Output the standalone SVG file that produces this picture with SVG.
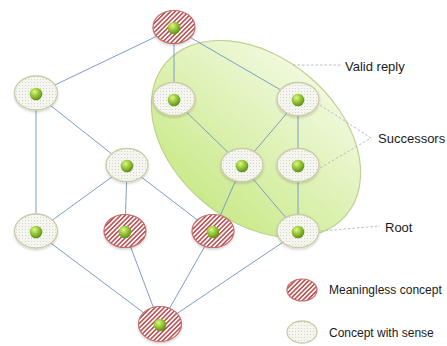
<svg xmlns="http://www.w3.org/2000/svg" width="447" height="346" viewBox="0 0 447 346">
<defs>
  <style>
    .edge{stroke:#7f9cc6;stroke-width:1;fill:none}
    .lead{stroke:#b4b4b4;stroke-width:0.9;stroke-dasharray:2.5,2;fill:none}
    .sense{fill:url(#dots);stroke:#cbcba6;stroke-width:1.3}
    .bad{fill:url(#hatch);stroke:#c86a6a;stroke-width:1.2}
    .dot{fill:url(#ball)}
    .lbl{font-family:"Liberation Sans",Arial,sans-serif;font-size:13px;fill:#1a1a1a}
    .leg{font-family:"Liberation Sans",Arial,sans-serif;font-size:12px;fill:#1a1a1a}
  </style>
  <pattern id="dots" width="3" height="3" patternUnits="userSpaceOnUse">
    <rect width="3" height="3" fill="#f6f6f0"/>
    <circle cx="1.5" cy="1.5" r="0.55" fill="#cfcfc8"/>
  </pattern>
  <pattern id="hatch" width="3.2" height="3.2" patternUnits="userSpaceOnUse" patternTransform="rotate(45)">
    <rect width="3.2" height="3.2" fill="#ffffff"/>
    <rect width="1.5" height="3.2" fill="#b9484a"/>
  </pattern>
  <radialGradient id="ball" cx="0.38" cy="0.32" r="0.7">
    <stop offset="0" stop-color="#e2f58c"/>
    <stop offset="0.45" stop-color="#9ccc3c"/>
    <stop offset="1" stop-color="#5c8c1a"/>
  </radialGradient>
  <linearGradient id="big" x1="0" y1="1" x2="0" y2="0">
    <stop offset="0" stop-color="#cbea8c"/>
    <stop offset="1" stop-color="#f0f9dd"/>
  </linearGradient>
  <filter id="sh" x="-30%" y="-30%" width="160%" height="170%">
    <feDropShadow dx="0" dy="1.5" stdDeviation="1.2" flood-color="#000" flood-opacity="0.18"/>
  </filter>
</defs>
<rect width="447" height="346" fill="#ffffff"/>

<g id="valid-region">
  <ellipse cx="256" cy="139" rx="118" ry="82" transform="rotate(40 256 139)" fill="url(#big)" stroke="#bcd28e" stroke-width="1.2"/>
</g>

<g id="connectors">
  <line class="edge" x1="174" y1="28" x2="36" y2="94"/>
  <line class="edge" x1="174" y1="28" x2="174" y2="100"/>
  <line class="edge" x1="174" y1="28" x2="298" y2="100"/>
  <line class="edge" x1="36" y1="94" x2="127" y2="166"/>
  <line class="edge" x1="36" y1="94" x2="36" y2="232"/>
  <line class="edge" x1="174" y1="100" x2="242" y2="166"/>
  <line class="edge" x1="298" y1="100" x2="242" y2="166"/>
  <line class="edge" x1="298" y1="100" x2="298" y2="166"/>
  <line class="edge" x1="127" y1="166" x2="36" y2="232"/>
  <line class="edge" x1="127" y1="166" x2="125" y2="232"/>
  <line class="edge" x1="127" y1="166" x2="213" y2="232"/>
  <line class="edge" x1="242" y1="166" x2="213" y2="232"/>
  <line class="edge" x1="242" y1="166" x2="298" y2="232"/>
  <line class="edge" x1="298" y1="166" x2="298" y2="232"/>
  <line class="edge" x1="36" y1="232" x2="160" y2="325"/>
  <line class="edge" x1="125" y1="232" x2="160" y2="325"/>
  <line class="edge" x1="213" y1="232" x2="160" y2="325"/>
  <line class="edge" x1="298" y1="232" x2="160" y2="325"/>
</g>

<g id="n0"><ellipse class="bad" filter="url(#sh)" cx="174" cy="27" rx="21" ry="16.5"/><circle class="dot" cx="174" cy="28" r="6.3"/></g>
<g id="n1"><ellipse class="sense" filter="url(#sh)" cx="36" cy="93" rx="21.5" ry="17"/><circle class="dot" cx="36" cy="94" r="6.3"/></g>
<g id="n2"><ellipse class="sense" filter="url(#sh)" cx="174" cy="99" rx="21" ry="16.5"/><circle class="dot" cx="174" cy="100" r="6.3"/></g>
<g id="n3"><ellipse class="sense" filter="url(#sh)" cx="298" cy="99" rx="21" ry="16.5"/><circle class="dot" cx="298" cy="100" r="6.3"/></g>
<g id="n4"><ellipse class="sense" filter="url(#sh)" cx="127" cy="165" rx="21" ry="16.5"/><circle class="dot" cx="127" cy="166" r="6.3"/></g>
<g id="n5"><ellipse class="sense" filter="url(#sh)" cx="242" cy="165" rx="21" ry="16.5"/><circle class="dot" cx="242" cy="166" r="6.3"/></g>
<g id="n6"><ellipse class="sense" filter="url(#sh)" cx="298" cy="165" rx="21" ry="16.5"/><circle class="dot" cx="298" cy="166" r="6.3"/></g>
<g id="n7"><ellipse class="sense" filter="url(#sh)" cx="36" cy="231" rx="21.5" ry="17"/><circle class="dot" cx="36" cy="232" r="6.3"/></g>
<g id="n8"><ellipse class="bad" filter="url(#sh)" cx="125" cy="231" rx="21" ry="16.5"/><circle class="dot" cx="125" cy="232" r="6.3"/></g>
<g id="n9"><ellipse class="bad" filter="url(#sh)" cx="213" cy="231" rx="21" ry="16.5"/><circle class="dot" cx="213" cy="232" r="6.3"/></g>
<g id="n10"><ellipse class="sense" filter="url(#sh)" cx="298" cy="231" rx="21" ry="16.5"/><circle class="dot" cx="298" cy="232" r="6.3"/></g>
<g id="n11"><ellipse class="bad" filter="url(#sh)" cx="160" cy="324" rx="21.5" ry="17.5"/><circle class="dot" cx="160" cy="325" r="6.3"/></g>

<g id="annotations">
  <line class="lead" x1="293" y1="65" x2="342" y2="65"/>
  <text class="lbl" x="345" y="71">Valid reply</text>
  <polyline class="lead" points="320,105 371,138 320,168"/>
  <text class="lbl" x="378" y="143">Successors</text>
  <line class="lead" x1="321" y1="231" x2="380" y2="226"/>
  <text class="lbl" x="385" y="232">Root</text>
</g>

<g id="legend">
  <g id="legend-meaningless"><ellipse class="bad" cx="302" cy="290" rx="15" ry="11"/><text class="leg" x="329" y="294">Meaningless concept</text></g>
  <g id="legend-sense"><ellipse class="sense" cx="302" cy="332" rx="15" ry="11"/><text class="leg" x="329" y="337">Concept with sense</text></g>
</g>
</svg>
